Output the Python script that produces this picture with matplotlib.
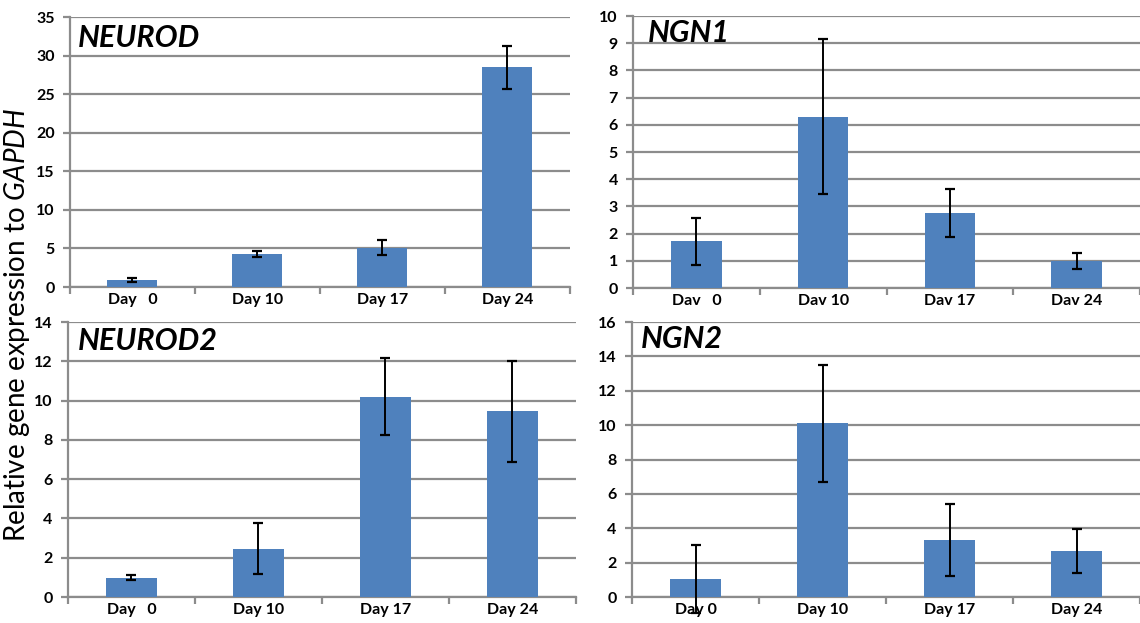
import matplotlib
matplotlib.use("Agg")
import matplotlib.pyplot as plt
import numpy as np

plt.rcParams['font.family'] = ['Lato', 'DejaVu Sans']
plt.rcParams['mathtext.fontset'] = 'custom'
plt.rcParams['mathtext.it'] = 'Lato:italic'
plt.rcParams['mathtext.rm'] = 'Lato'

# data
days_left = ["Day   0", "Day 10", "Day 17", "Day 24"]
days_ngn1 = ["Dav   0", "Dav 10", "Dav 17", "Dav 24"]
days_ngn2 = ["Day 0", "Day 10", "Day 17", "Day 24"]

neurod = [0.95, 4.3, 5.1, 28.5]
neurod_err = [0.27, 0.4, 1.0, 2.8]

ngn1 = [1.72, 6.3, 2.76, 0.99]
ngn1_err = [0.87, 2.85, 0.88, 0.3]

neurod2 = [0.99, 2.47, 10.2, 9.45]
neurod2_err = [0.13, 1.32, 1.95, 2.57]

ngn2 = [1.05, 10.1, 3.3, 2.68]
ngn2_err = [2.0, 3.4, 2.1, 1.3]

bar_color = '#4f81bd'
grid_color = '#8c8c8c'

fig = plt.figure(figsize=(11.4, 6.23), dpi=100)


def panel(rect, labels, vals, errs, ymax, ystep, title, tx, ty):
    ax = fig.add_axes(rect)
    x = np.arange(len(vals))
    ax.bar(x, vals, width=0.4, color=bar_color, zorder=3)
    ax.errorbar(x, vals, yerr=errs, fmt='none', ecolor='black',
                elinewidth=1.4, capsize=3.5, capthick=1.6, zorder=4, clip_on=False)
    ax.set_xlim(-0.5, len(vals) - 0.5)
    ax.set_ylim(0, ymax)
    ax.set_yticks(np.arange(0, ymax + 0.1, ystep))
    ax.grid(axis='y', color=grid_color, linewidth=1.6, zorder=0)
    ax.set_axisbelow(True)
    for s in ['top', 'right']:
        ax.spines[s].set_visible(False)
    for s in ['left', 'bottom']:
        ax.spines[s].set_color(grid_color)
        ax.spines[s].set_linewidth(1.6)
    # ticks at category boundaries
    ax.set_xticks(np.arange(-0.5, len(vals), 1.0))
    ax.set_xticklabels([])
    ax.set_xticks(x, minor=True)
    ax.set_xticklabels(labels, minor=True, fontsize=11.5, fontweight='bold')
    ax.tick_params(axis='x', which='minor', length=0, pad=4)
    ax.tick_params(axis='x', which='major', length=5, width=1.6, color=grid_color)
    ax.tick_params(axis='y', length=5, width=1.6, color=grid_color, labelsize=11.5, pad=6)
    for t in ax.get_yticklabels():
        t.set_fontweight('bold')
    ax.text(tx, ty, title, transform=ax.transAxes, fontsize=22,
            fontweight='bold', fontstyle='italic', va='baseline', ha='left')
    return ax


panel([0.0614, 0.5393, 0.4386, 0.4334], days_left, neurod, neurod_err, 35, 5,
      'NEUROD', 0.016, 0.89)
panel([0.5553, 0.5377, 0.4447, 0.4366], days_ngn1, ngn1, ngn1_err, 10, 1,
      'NGN1', 0.03, 0.904)
panel([0.0596, 0.0417, 0.4456, 0.4414], days_left, neurod2, neurod2_err, 14, 2,
      'NEUROD2', 0.02, 0.898)
panel([0.5544, 0.0417, 0.4456, 0.4414], days_ngn2, ngn2, ngn2_err, 16, 2,
      'NGN2', 0.018, 0.905)

fig.text(0.015, 0.478, 'Relative gene expression to $\\mathit{GAPDH}$',
         rotation=90, ha='center', va='center', fontsize=20)

fig.savefig('out.png', dpi=100)
